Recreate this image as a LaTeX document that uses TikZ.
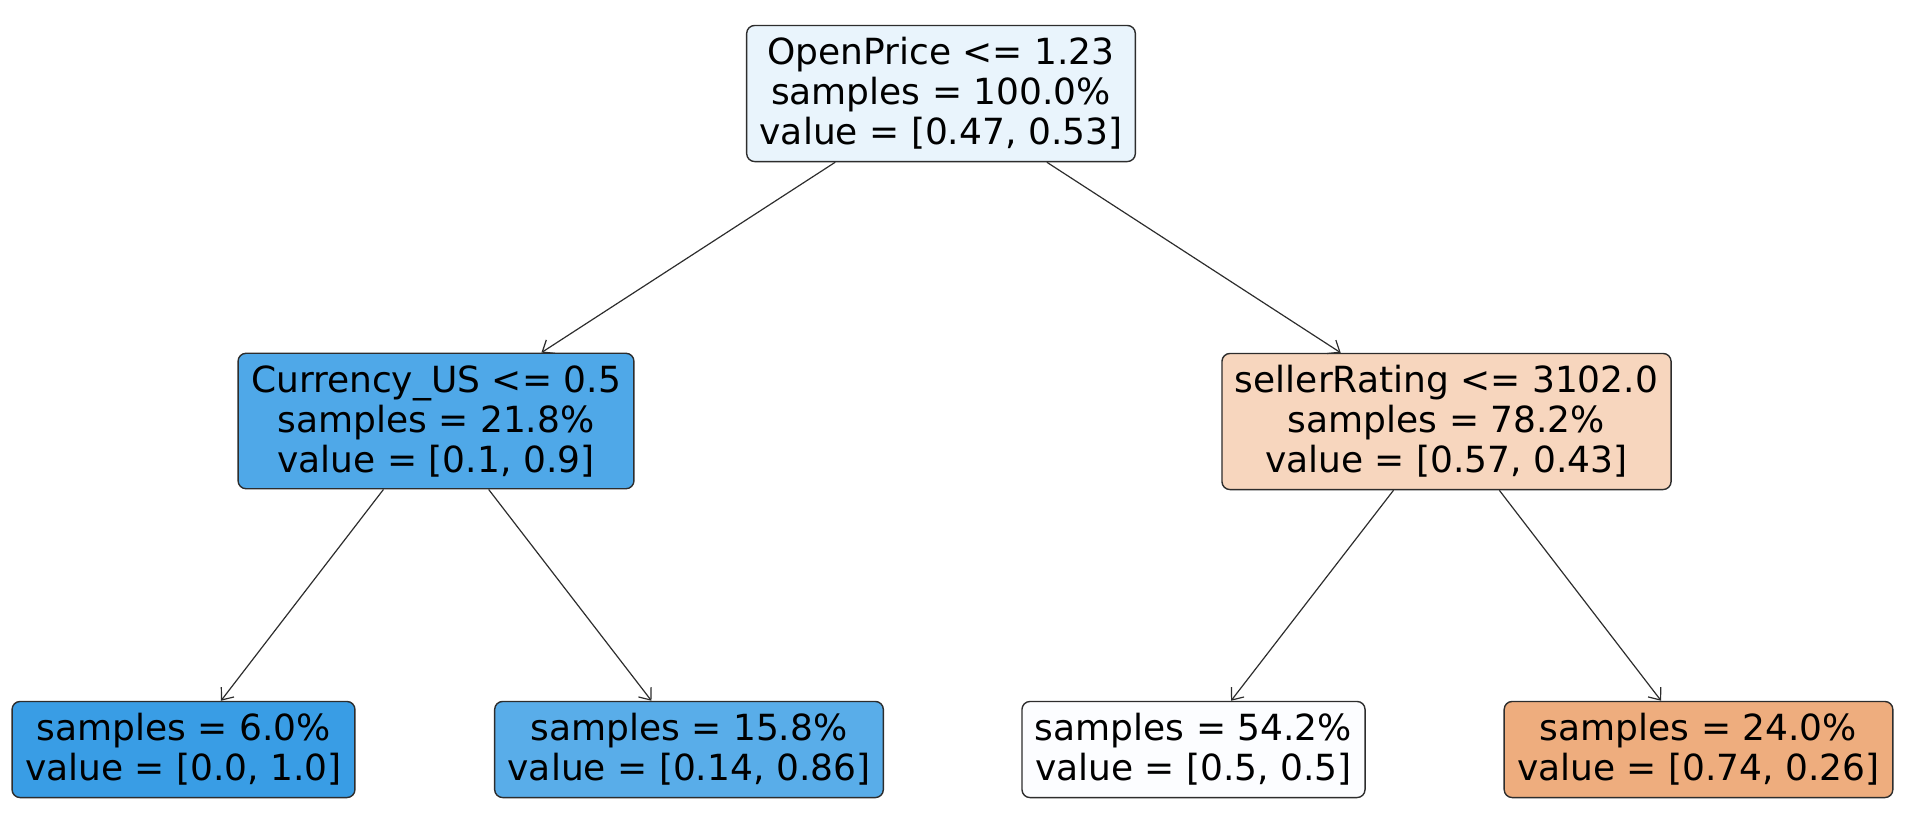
\documentclass[tikz,border=0pt]{standalone}
\usepackage{fontspec}
\setmainfont{DejaVu Sans}
\usetikzlibrary{arrows.meta}
\definecolor{rootfill}{RGB}{233,244,252}
\definecolor{curfill}{RGB}{79,168,232}
\definecolor{sellfill}{RGB}{247,214,190}
\definecolor{leafa}{RGB}{57,157,229}
\definecolor{leafb}{RGB}{89,173,233}
\definecolor{leafc}{RGB}{252,253,255}
\definecolor{leafd}{RGB}{238,173,126}
\definecolor{edgegray}{RGB}{45,45,45}
\begin{document}
\begin{tikzpicture}[x=0.5pt,y=-0.5pt,
    treenode/.style={draw=edgegray, line width=0.7pt, rounded corners=4pt, align=center,
      inner xsep=6.5pt, inner ysep=6pt, font=\fontsize{18}{20}\selectfont},
    treeedge/.style={draw=edgegray, line width=0.6pt, -{Straight Barb[length=5pt,width=8pt]}}]
        \useasboundingbox (0,0) rectangle (1920,832);
        \node[treenode, fill=rootfill] (R) at (941,93.5) {OpenPrice <= 1.23\\samples = 100.0\%\\value = [0.47, 0.53]};
        \node[treenode, fill=curfill] (C) at (436,421) {Currency\_US <= 0.5\\samples = 21.8\%\\value = [0.1, 0.9]};
        \node[treenode, fill=sellfill] (S) at (1446.5,421.5) {sellerRating <= 3102.0\\samples = 78.2\%\\value = [0.57, 0.43]};
        \node[treenode, fill=leafa] (L1) at (183.5,749.5) {samples = 6.0\%\\value = [0.0, 1.0]};
        \node[treenode, fill=leafb] (L2) at (689,749.5) {samples = 15.8\%\\value = [0.14, 0.86]};
        \node[treenode, fill=leafc] (L3) at (1193.5,749.5) {samples = 54.2\%\\value = [0.5, 0.5]};
        \node[treenode, fill=leafd] (L4) at (1698.5,749.5) {samples = 24.0\%\\value = [0.74, 0.26]};
        \draw[treeedge] (R) -- (C);
        \draw[treeedge] (R) -- (S);
        \draw[treeedge] (C) -- (L1);
        \draw[treeedge] (C) -- (L2);
        \draw[treeedge] (S) -- (L3);
        \draw[treeedge] (S) -- (L4);
      \end{tikzpicture}
\end{document}
